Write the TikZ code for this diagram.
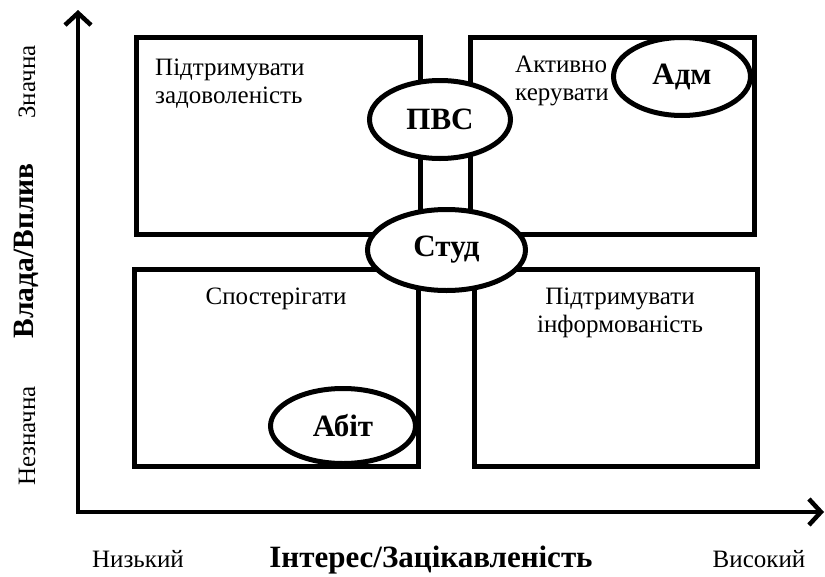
\documentclass[tikz,border=0pt]{standalone}
\usepackage{fontspec}
\setmainfont{Liberation Serif}
\usetikzlibrary{shapes.geometric,arrows.meta}
\begin{document}
\begin{tikzpicture}[x=1pt,y=-1pt,
  quad/.style={draw,line width=5pt},
  oval/.style={draw,ellipse,line width=5pt,fill=white,inner sep=0pt,font=\fontsize{31}{34}\selectfont\bfseries},
  txt/.style={font=\fontsize{25}{28}\selectfont,inner sep=0pt},
  axislbl/.style={font=\fontsize{31}{36}\selectfont\bfseries,inner sep=0pt},
  axisline/.style={line width=4.5pt,line join=miter}
]
\useasboundingbox (0,0) rectangle (825,576);
% quadrants
\draw[quad] (136,37) rectangle (420,234);
\draw[quad] (470.5,37) rectangle (754,234);
\draw[quad] (134.5,269) rectangle (418.5,466.5);
\draw[quad] (474.5,269) rectangle (757,466.5);
% axes
\coordinate (O) at (78,512);
\coordinate (ytip) at (78,10);
\coordinate (xtip) at (824,512);
\draw[axisline,{Straight Barb[length=12pt,width=26pt,line width=4.5pt]}-{Straight Barb[length=12pt,width=26pt,line width=4.5pt]}] (ytip) -- (O) -- (xtip);
% quadrant texts (base anchor = last line)
\node[txt,anchor=base west,align=left] (q1) at (155,103) {Підтримувати\\задоволеність};
\node[txt,anchor=base west,align=left] (q2) at (515,100) {Активно\\керувати};
\node[txt,anchor=base] (q3) at (276,304) {Спостерігати};
\node[txt,anchor=base,align=center] (q4) at (620,332) {Підтримувати\\інформованість};
% ellipses
\node[oval,minimum width=141pt,minimum height=78pt] (pvs) at (440,119.5) {ПВС};
\node[oval,minimum width=158pt,minimum height=81pt] (stud) at (446.5,250) {Студ};
\node[oval,minimum width=137pt,minimum height=78pt] (adm) at (682,76.5) {Адм};
\node[oval,minimum width=145pt,minimum height=75pt] (abit) at (343,426) {Абіт};
% axis labels (rotated: baseline on the right)
\node[txt,rotate=90,anchor=base] (hi) at (35,82) {Значна};
\node[axislbl,rotate=90,anchor=base,font=\fontsize{29.5}{34}\selectfont\bfseries] (pow) at (33,251) {Влада/Вплив};
\node[txt,rotate=90,anchor=base] (lo) at (35,436) {Незначна};
\node[txt,anchor=base] (low) at (138,567) {Низький};
\node[axislbl,anchor=base] (int) at (431,567) {Інтерес/Зацікавленість};
\node[txt,anchor=base] (high) at (759,567) {Високий};
\end{tikzpicture}
\end{document}
